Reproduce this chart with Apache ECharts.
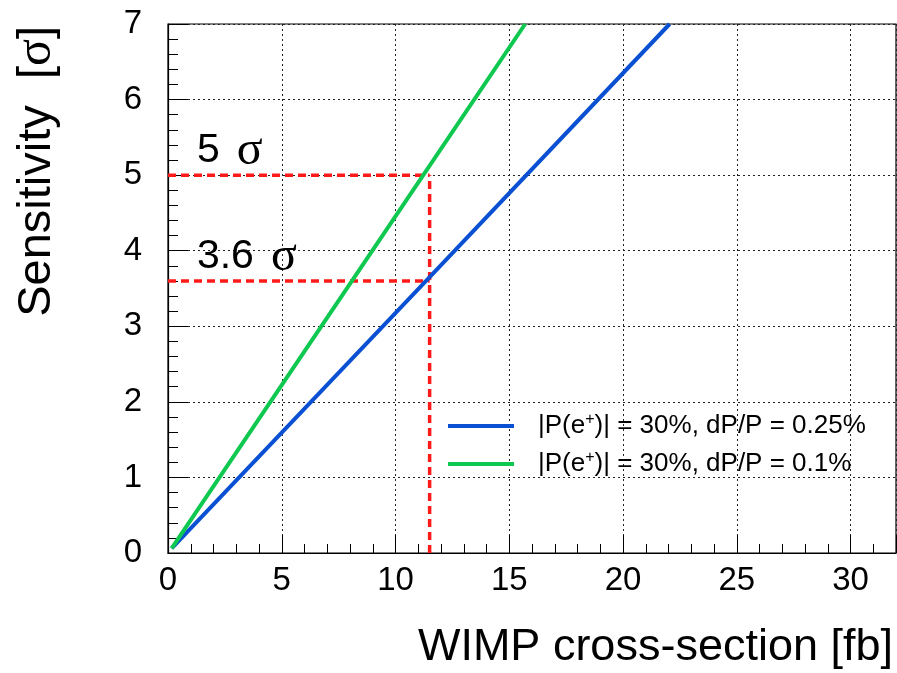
<!DOCTYPE html>
<html><head><meta charset="utf-8">
<script src="https://cdn.jsdelivr.net/npm/echarts@6/dist/echarts.min.js"></script>
<style>html,body{margin:0;padding:0;background:#fff}#c{width:897px;height:673px}</style>
</head><body><div id="c"></div>
<script>
// Data
const blueCurve = [[0.16, 0.06], [11.5, 3.65], [22.05, 7.0]];   // |P(e+)| = 30%, dP/P = 0.25%
const greenCurve = [[0.16, 0.06], [11.22, 5.0], [15.7, 7.0]];   // |P(e+)| = 30%, dP/P = 0.1%
const line5 = [[0, 5], [11.5, 5]];
const line36 = [[0, 3.6], [11.5, 3.6]];
const lineV = [[11.5, 0], [11.5, 5]];
const annotations = [{ value: [1.27, 5.0], text: '5{s|σ}' }, { value: [1.27, 3.6], text: '3.6{s|σ}' }];
const seriesNames = ['|P(e{sup|+})| = 30%, dP/P = 0.25%', '|P(e{sup|+})| = 30%, dP/P = 0.1%'];

const FONT = '"Liberation Sans", Arial, Helvetica, sans-serif';
const SERIF = '"Liberation Serif", "DejaVu Serif", serif';
const chart = echarts.init(document.getElementById('c'));
const redLine = (d) => ({
  type: 'line', data: d, symbol: 'none', silent: true, z: 3,
  lineStyle: { color: '#ff1a1a', width: 3.5, type: [8, 5] }
});
chart.setOption({
  animation: false,
  backgroundColor: '#fff',
  grid: { left: 168, right: 1, top: 24, bottom: 120, show: true, borderColor: '#000', borderWidth: 1.2, containLabel: false },
  legend: {
    orient: 'vertical', left: 443, top: 406, itemGap: 8,
    itemWidth: 66, itemHeight: 4, icon: 'rect',
    data: [seriesNames[0], seriesNames[1]],
    formatter: n => n,
    textStyle: {
      fontFamily: FONT, fontSize: 26, color: '#000', padding: [0, 0, 0, 19], lineHeight: 30,
      rich: { sup: { fontFamily: FONT, fontSize: 16, padding: [0, 0, 13, 0], color: '#000' } }
    }
  },
  xAxis: {
    type: 'value', min: 0, max: 32, interval: 5,
    axisLine: { show: true, lineStyle: { color: '#000', width: 1.2 } },
    axisTick: { show: true, inside: true, length: 18, lineStyle: { color: '#000' } },
    minorTick: { show: true, splitNumber: 5, length: 9, lineStyle: { color: '#000' } },
    splitLine: { show: true, lineStyle: { color: '#222', width: 1, type: [2, 3] } },
    axisLabel: { fontFamily: FONT, fontSize: 33, color: '#000', margin: 11, showMaxLabel: false }
  },
  yAxis: {
    type: 'value', min: 0, max: 7, interval: 1,
    axisLine: { show: true, lineStyle: { color: '#000', width: 1.2 } },
    axisTick: { show: true, inside: true, length: 20, lineStyle: { color: '#000' } },
    minorTick: { show: true, splitNumber: 5, length: 10, lineStyle: { color: '#000' } },
    splitLine: { show: true, lineStyle: { color: '#222', width: 1, type: [2, 3] } },
    axisLabel: { fontFamily: FONT, fontSize: 33, color: '#000', margin: 26 }
  },
  series: [
    { name: seriesNames[0], type: 'line', data: blueCurve, symbol: 'none', z: 4,
      lineStyle: { color: '#0a50d2', width: 4 }, itemStyle: { color: '#0a50d2' } },
    { name: seriesNames[1], type: 'line', data: greenCurve, symbol: 'none', z: 4,
      lineStyle: { color: '#0ec84f', width: 4 }, itemStyle: { color: '#0ec84f' } },
    redLine(line5), redLine(line36), redLine(lineV),
    { type: 'scatter', symbolSize: 0, silent: true, z: 5, itemStyle: { opacity: 1, color: '#000' },
      data: annotations.map(a => ({ value: a.value, label: { formatter: a.text } })),
      label: { show: true, position: [0, 0], align: 'left', verticalAlign: 'bottom',
        fontFamily: FONT, fontSize: 41, color: '#000',
        rich: { s: { fontFamily: SERIF, fontSize: 48, color: '#000', padding: [0, 0, 0, 17] } } } }
  ],
  graphic: [
    { type: 'text', x: 893, y: 648, style: { text: 'WIMP cross-section [fb]', fontFamily: FONT, fontSize: 45, fill: '#000', align: 'right', verticalAlign: 'middle' } },
    { type: 'text', x: 37, y: 26, rotation: Math.PI / 2, style: { text: 'Sensitivity  [{s|σ}]', fontFamily: FONT, fontSize: 47, fill: '#000', align: 'right', verticalAlign: 'middle',
      rich: { s: { fontFamily: SERIF, fontSize: 50, fill: '#000' } } } }
  ]
});
</script></body></html>
